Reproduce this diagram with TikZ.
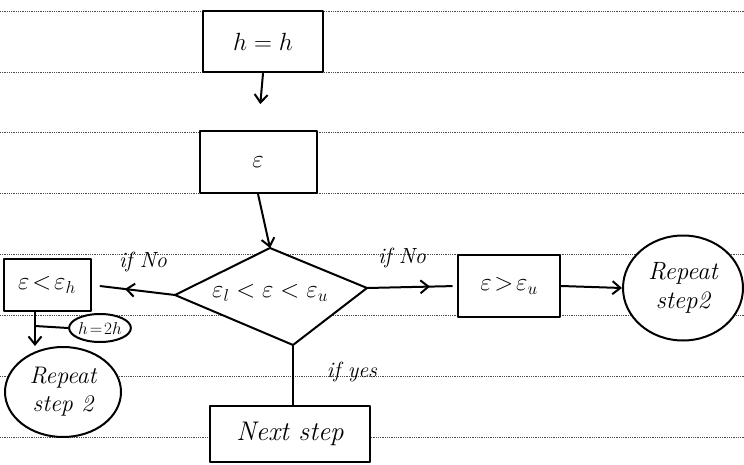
\documentclass[tikz,border=0pt]{standalone}
\usetikzlibrary{shapes.geometric,arrows.meta,decorations.markings}
\begin{document}
\begin{tikzpicture}[x=1pt,y=-1pt,
  hand/.style={line width=2pt, line cap=round, line join=round},
  boxnode/.style={hand, draw, rectangle, inner sep=0pt},
  ovalnode/.style={hand, draw, ellipse, inner sep=0pt, align=center},
  ruleline/.style={densely dotted, line width=0.8pt, black!70},
  tipend/.style={-{Straight Barb[length=8pt,width=13pt]}},
  midarrow/.style={postaction={decorate},decoration={markings,
     mark=at position #1 with {\arrow{Straight Barb[length=8pt,width=13pt]}}}},
  lbl/.style={font=\fontsize{22}{24}\selectfont\itshape},
  big/.style={font=\fontsize{34}{36}\selectfont},
  mid/.style={font=\fontsize{25}{27}\selectfont}]
\useasboundingbox (0,0) rectangle (744,465);
\fill[white] (0,0) rectangle (744,465);
% ruled paper
\foreach \yy in {11,72,132,193,254,315,376,437}
  \draw[ruleline] (0,\yy) -- (744,\yy);
% nodes
\node[boxnode, fill=white, minimum width=120pt, minimum height=61pt, big] (hh) at (263,42) {$h=h$};
\node[boxnode, fill=white, minimum width=117pt, minimum height=62pt, font=\fontsize{38}{40}\selectfont] (eps) at (258,162) {$\varepsilon$};
% diamond (hand-drawn, slightly skewed)
\coordinate (dl) at (175,295);
\coordinate (dt) at (270,248);
\coordinate (dr) at (367,288);
\coordinate (db) at (293,345);
\filldraw[hand, fill=white] (dl) -- (dt) -- (dr) -- (db) -- cycle;
\node[mid, inner sep=0pt] (dia) at (270,293) {$\varepsilon_l<\varepsilon<\varepsilon_u$};
\node[boxnode, fill=white, minimum width=87pt, minimum height=52pt, font=\fontsize{25}{27}\selectfont] (lbox) at (47,285) {$\varepsilon\!<\!\varepsilon_h$};
\node[boxnode, fill=white, minimum width=102pt, minimum height=62pt, font=\fontsize{26}{28}\selectfont] (rbox) at (509,286) {$\varepsilon\!>\!\varepsilon_u$};
\node[ovalnode, fill=white, minimum width=120pt, minimum height=105pt, mid] (rrep) at (683,288) {\itshape Repeat\\[2pt] \itshape step2};
\node[ovalnode, fill=white, minimum width=52pt, minimum height=28pt, font=\fontsize{16}{18}\selectfont] (h2h) at (100,328) {$h\!=\!2h$};
\node[ovalnode, fill=white, minimum width=116pt, minimum height=90pt, font=\fontsize{24}{26}\selectfont] (lrep) at (63,392) {\itshape Repeat\\[2pt] \itshape step 2};
\node[boxnode, fill=white, minimum width=160pt, minimum height=56pt, font=\fontsize{27}{29}\selectfont] (next) at (290,434) {\itshape Next step};
% labels
\node[lbl] (ln1) at (143,262) {if No};
\node[lbl] (ln2) at (402,258) {if No};
\node[lbl] (ly) at (352,372) {if yes};
% connectors
\draw[hand, tipend, shorten >=26pt] (hh.south) -- (eps.north);
\draw[hand, tipend] (eps.south) -- (dt);
\draw[hand, midarrow=0.6, shorten >=9pt] (dl) -- (lbox.east);
\draw[hand, midarrow=0.7, shorten >=5pt] (dr) -- (rbox.west);
\draw[hand, tipend] (rbox.east) -- (rrep.west);
\draw[hand] (db) -- (db |- next.north);
\coordinate (br) at (35,326);
\draw[hand, tipend] (br |- lbox.south) -- (br |- lrep.north);
\draw[hand] (br) -- (h2h.west);
\end{tikzpicture}
\end{document}
